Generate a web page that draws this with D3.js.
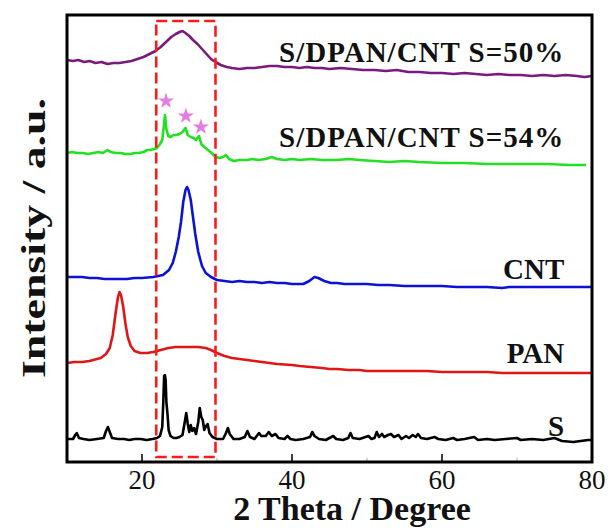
<!DOCTYPE html>
<html lang="en">
<head>
    <meta charset="utf-8">
    <title>XRD</title>
    <script src="https://d3js.org/d3.v7.min.js" charset="utf-8"></script>
    <style>
        body { margin: 0; background: #fff; }
        text { font-family: "Liberation Serif", "Times New Roman", serif; fill: #111; }
    </style>
</head>
<body>
<script>

// 2 theta (degree), stacked intensity (a.u.)
var s50 = [[10,402],[10.8,401],[11.5,402],[12.3,400],[13,401],[13.8,399],[14.6,400],[15.4,398],[16.2,399],[17,399],[17.8,400],[18.6,401],[19.4,403],[20.2,405],[21,408],[21.8,411],[22.5,415],[23.2,420],[23.9,425],[24.5,428],[25,430],[25.4,431],[25.8,429],[26.3,426],[26.8,422],[27.4,418],[28,413],[28.6,408],[29.2,403],[29.8,400],[30.5,397],[31.3,395],[32,394],[33,393],[34,394],[35,394],[36,395],[37,396],[38,396],[39,395],[40,395],[41,394],[42,395],[43,394],[44,394],[45,393],[46.5,394],[48,393],[49.5,392],[51,392],[52.5,391],[54,392],[55.5,390],[57,390],[58.5,389],[60,389],[61.5,388],[63,389],[64.5,388],[66,387],[67.5,388],[69,387],[70.5,387],[72,386],[73.5,387],[75,386],[76.5,387],[78,386],[79,385],[80,386]]

var s54 = [[10,309],[10.7,310],[11.4,309],[12.1,309],[12.8,308],[13.5,309],[14.2,310],[14.8,309],[15.4,312],[15.8,310],[16.5,309],[17.2,309],[17.8,308],[18.4,308],[19,309],[19.6,309],[20.2,310],[20.7,312],[21.1,312],[21.6,313],[22,314],[22.4,318],[22.7,322],[22.9,335],[23.07,347],[23.25,333],[23.5,326],[23.8,325],[24.2,327],[24.6,327],[25,328],[25.4,330],[25.8,334],[26.1,327],[26.5,325],[26.9,324],[27.2,322],[27.6,326],[27.9,318],[28.3,315],[28.8,312],[29.3,309],[29.8,305],[30.3,304],[30.8,305],[31.2,307],[31.6,303],[32.2,301],[33,302],[34,302],[34.7,303],[35.5,302],[36.5,303],[37.3,305],[38,303],[39,302],[40,303],[41,302],[42.5,303],[44,302],[46,302],[47.6,303],[49,302],[51,301],[53,300],[55,301],[57,300],[60,299],[63,299],[66,298],[70,298],[74,298],[77,297],[79.2,297]]

var cnt = [[10,185],[11,185],[12,185],[13,184],[14,184],[15,183],[16,183],[17,183],[18,183],[19,184],[20,184],[21.5,185],[22.8,187],[23.6,192],[24.1,199],[24.5,210],[24.9,225],[25.2,240],[25.5,260],[25.8,272],[26,275],[26.2,272],[26.5,262],[26.8,245],[27.1,228],[27.5,210],[28,196],[28.5,189],[29.2,185],[30,182],[31,181],[32,180],[33,181],[34,180],[35,180],[36,179],[37,180],[38,179],[39,179],[40,178],[41.5,178],[42.3,181],[43,185],[43.5,184],[44.3,181],[45.2,179],[46,179],[47,178],[48.5,178],[50,178],[51.5,177],[53,177],[55,176],[56.5,176],[58,176],[60,176],[62,175],[64,175],[66,175],[68,174],[69,175],[70,175],[72,175],[74,175],[76,175],[78,175],[80,175]]

var pan = [[10,99],[11,100],[12,100],[13,101],[13.5,102],[14.5,104],[15.2,108],[15.7,114],[16.1,127],[16.5,150],[16.8,165],[17,170],[17.2,167],[17.5,155],[17.8,138],[18.1,125],[18.5,116],[19,111],[19.8,109],[20.7,109],[21.5,110],[22.5,112],[23.5,114],[24.5,115],[25.5,115],[26.5,115],[27.5,115],[28.5,114],[29.2,112],[30,109],[31,106],[32,104],[33,103],[34,102],[35,101],[36,100],[37,99],[38,98],[40,97],[41,96],[42.5,95],[44,94],[45,93],[46,93],[47.6,92],[49,92],[50,91],[52,91],[54,91],[56,91],[58,91],[60,90],[62,90],[64,90],[66,90],[68,89],[70,89],[72,89],[74,89],[76,89],[78,89],[80,89]]

var sulfur = [[10,23],[10.8,23],[11.1,27],[11.3,29],[11.6,24],[12.2,23],[13,22],[14,23],[14.9,24],[15.2,31],[15.45,35],[15.7,30],[16,24],[16.8,23],[17.6,23],[18.3,22],[19,23],[19.8,23],[20.6,22],[21.4,23],[22,24],[22.4,26],[22.7,35],[22.85,62],[22.95,86],[23.05,87],[23.15,82],[23.25,60],[23.4,48],[23.55,32],[23.8,26],[24.2,24],[24.6,24],[25,25],[25.4,27],[25.7,40],[25.9,49],[26.1,38],[26.3,30],[26.5,37],[26.7,31],[26.95,34],[27.2,28],[27.5,40],[27.7,54],[27.9,45],[28.1,42],[28.3,32],[28.55,36],[28.75,38],[29,29],[29.4,25],[30,23],[30.8,23],[31.2,29],[31.45,34],[31.7,28],[32.2,23],[33,23],[33.7,25],[34.05,31],[34.4,25],[35,23],[35.6,29],[35.9,26],[36.5,26],[36.9,30],[37.3,26],[37.8,28],[38.2,24],[39,23],[39.4,26],[39.8,23],[40.5,22],[41.5,23],[42.4,25],[42.7,30],[43,26],[43.6,23],[44.5,22],[45.5,26],[45.9,23],[46.8,22],[47.5,24],[47.8,29],[48.1,24],[49,23],[50.2,26],[50.6,23],[51,24],[51.3,30],[51.6,25],[52,28],[52.3,25],[52.8,27],[53.2,28],[53.6,25],[54.2,27],[54.6,23],[55.2,26],[55.6,24],[56.1,27],[56.5,25],[56.8,28],[57.2,24],[58,23],[59,25],[59.5,23],[60.5,22],[61.5,24],[62,22],[63,23],[64.3,25],[64.8,22],[66,23],[67,22],[68.5,23],[70,24],[70.5,22],[72,23],[73.5,22],[75,24],[76,21],[77.5,20],[78.5,21],[79.5,22],[80,22]]

var seriesNames = ["S/DPAN/CNT S=50%", "S/DPAN/CNT S=54%", "CNT", "PAN", "S"]
var seriesColors = ["#7a1a7c", "#22e022", "#0c12d4", "#e01616", "#000000"]
var seriesData = [s50, s54, cnt, pan, sulfur]

// sulfur reflections marked by stars on the S=54% curve
var starPoints = [[23.2,361],[25.85,346],[27.85,335]]

var xTicks = [20, 40, 60, 80]
var xMinor = [30, 50, 70]
var boxRange = [21.9, 29.8]

var w = 609, h = 528
var mLeft = 67, mRight = 592, mTop = 15, mBottom = 462

var svg = d3.select("body").append("svg").attr("width", w).attr("height", h)

var x = d3.scaleLinear().domain([10, 80]).range([mLeft, mRight])
var y = d3.scaleLinear().domain([0, 447]).range([mBottom, mTop])

var line = d3.line().x(function (d) { return x(d[0]) }).y(function (d) { return y(d[1]) })

// curves
svg.selectAll("path.curve").data(seriesData).enter().append("path")
    .attr("class", "curve")
    .attr("d", line)
    .attr("fill", "none")
    .attr("stroke", function (d, i) { return seriesColors[i] })
    .attr("stroke-width", 2.6)
    .attr("stroke-linejoin", "round")

// curve labels (right aligned, just above each trace)
var labelY = [62, 147, 279, 363, 436]
svg.selectAll("text.lbl").data(seriesNames).enter().append("text")
    .attr("class", "lbl")
    .attr("x", x(76.3))
    .attr("y", function (d, i) { return labelY[i] })
    .attr("text-anchor", "end")
    .attr("font-size", 29)
    .attr("font-weight", "bold")
    .attr("letter-spacing", function (d) { return d.length > 5 ? 1 : 0 })
    .text(function (d) { return d })

// stars
svg.selectAll("path.star").data(starPoints).enter().append("path")
    .attr("class", "star")
    .attr("d", d3.symbol().type(d3.symbolStar).size(80))
    .attr("transform", function (d) { return "translate(" + x(d[0]) + "," + y(d[1]) + ")" })
    .attr("fill", "#e57be3")

// dashed box
svg.append("rect")
    .attr("x", x(boxRange[0])).attr("y", 21)
    .attr("width", x(boxRange[1]) - x(boxRange[0]))
    .attr("height", 457 - 21)
    .attr("fill", "none")
    .attr("stroke", "#ff1a1a")
    .attr("stroke-width", 2.6)
    .attr("stroke-dasharray", "11,5")

// x axis ticks (inside) and labels
svg.selectAll("line.maj").data(xTicks).enter().append("line")
    .attr("x1", function (d) { return x(d) }).attr("x2", function (d) { return x(d) })
    .attr("y1", mBottom).attr("y2", mBottom - 8)
    .attr("stroke", "#000").attr("stroke-width", 1.5)
svg.selectAll("line.min").data(xMinor).enter().append("line")
    .attr("x1", function (d) { return x(d) }).attr("x2", function (d) { return x(d) })
    .attr("y1", mBottom).attr("y2", mBottom - 4)
    .attr("stroke", "#aaa").attr("stroke-width", 1)
svg.selectAll("text.tick").data(xTicks).enter().append("text")
    .attr("x", function (d) { return x(d) })
    .attr("y", 489)
    .attr("text-anchor", "middle")
    .attr("font-size", 27)
    .text(function (d) { return d })

// frame
svg.append("rect")
    .attr("x", mLeft).attr("y", mTop)
    .attr("width", mRight - mLeft).attr("height", mBottom - mTop)
    .attr("fill", "none").attr("stroke", "#000").attr("stroke-width", 3)

// axis titles
svg.append("text")
    .attr("x", 352).attr("y", 520)
    .attr("text-anchor", "middle")
    .attr("font-size", 34).attr("font-weight", "bold")
    .text("2 Theta / Degree")

svg.append("text")
    .attr("transform", "translate(45,238) rotate(-90)")
    .attr("text-anchor", "middle")
    .attr("font-size", 34).attr("font-weight", "bold")
    .attr("textLength", 280).attr("lengthAdjust", "spacingAndGlyphs")
    .text("Intensity / a.u.")

</script>
</body>
</html>
